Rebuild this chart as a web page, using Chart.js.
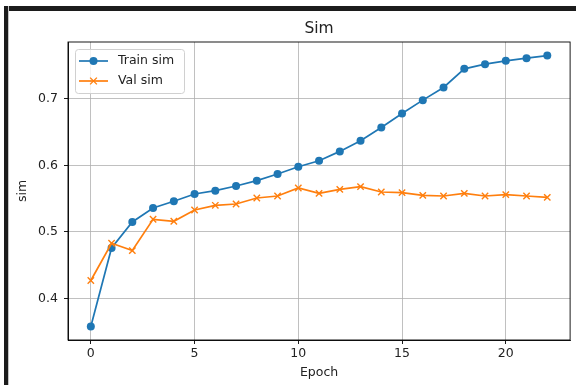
<!DOCTYPE html>
<html>
<head>
<meta charset="utf-8">
<script src="https://cdn.jsdelivr.net/npm/chart.js@4/dist/chart.umd.min.js"></script>
<style>
  body { margin: 0; background: #fff; }
  .wrap { position: relative; width: 576px; height: 385px; }
  .barTop { position: absolute; left: 4px; top: 6px; width: 572px; height: 5px; background: #1c1c1c; }
  .barLeft { position: absolute; left: 4px; top: 6px; width: 4px; height: 379px; background: #1c1c1c; border-right: 1px solid #c4c4c4; }
</style>
</head>
<body>
<div class="wrap">
  <canvas id="simChart" width="576" height="385"></canvas>
  <div class="barTop"></div>
  <div class="barLeft"></div>
</div>
<script>
// data
const epochs = [0, 1, 2, 3, 4, 5, 6, 7, 8, 9, 10, 11, 12, 13, 14, 15, 16, 17, 18, 19, 20, 21, 22];
const trainSim = [0.358, 0.476, 0.515, 0.536, 0.546, 0.557, 0.562, 0.569, 0.577, 0.587, 0.598, 0.607,
  0.621, 0.637, 0.657, 0.678, 0.698, 0.717, 0.745, 0.752, 0.757, 0.761, 0.765];
const valSim = [0.427, 0.483, 0.472, 0.519, 0.516, 0.533, 0.540, 0.542, 0.551, 0.554, 0.566, 0.558,
  0.564, 0.568, 0.560, 0.559, 0.555, 0.554, 0.558, 0.554, 0.556, 0.554, 0.552];
const xTicks = [0, 5, 10, 15, 20];
const yTicks = [0.4, 0.5, 0.6, 0.7];
const seriesLabels = ["Train sim", "Val sim"];
const seriesColors = ["#1f77b4", "#ff7f0e"];

const FONT = "'DejaVu Sans', sans-serif";
const TEXT = "#222";
const FS = 12.5; // tick / label size

// axis range with 5% margin like matplotlib
function padRange(arr) {
  const lo = Math.min(...arr), hi = Math.max(...arr);
  const pad = (hi - lo) * 0.05;
  return [lo - pad, hi + pad];
}
const [xMin, xMax] = padRange(epochs);
const [yMin, yMax] = padRange(trainSim.concat(valSim));

const toPoints = (vals) => epochs.map((e, i) => ({ x: e, y: vals[i] }));

// frame around the plot area
const framePlugin = {
  id: "frame",
  afterDatasetsDraw(chart) {
    const { ctx, chartArea: a } = chart;
    ctx.save();
    ctx.strokeStyle = "#000";
    ctx.lineWidth = 0.9;
    ctx.strokeRect(a.left, a.top, a.right - a.left, a.bottom - a.top);
    ctx.restore();
  },
};

// title centred over the axes
const titlePlugin = {
  id: "axTitle",
  afterDraw(chart) {
    const { ctx, chartArea: a } = chart;
    ctx.save();
    ctx.font = `15.5px ${FONT}`;
    ctx.fillStyle = TEXT;
    ctx.textAlign = "center";
    ctx.textBaseline = "middle";
    ctx.fillText("Sim", (a.left + a.right) / 2, 29);
    ctx.restore();
  },
};

// legend box at upper left
const legendPlugin = {
  id: "boxLegend",
  afterDraw(chart) {
    const { ctx, chartArea: a } = chart;
    const x0 = a.left + 7, y0 = a.top + 7, w = 109, h = 44;
    ctx.save();
    ctx.fillStyle = "rgba(255,255,255,0.8)";
    ctx.strokeStyle = "#d0d0d0";
    ctx.lineWidth = 1;
    ctx.beginPath();
    ctx.roundRect(x0 + 0.5, y0 + 0.5, w, h, 3);
    ctx.fill();
    ctx.stroke();

    chart.data.datasets.forEach((ds, i) => {
      const y = y0 + 12 + i * 20;
      const lx0 = x0 + 4, lx1 = x0 + 33, mx = (lx0 + lx1) / 2;
      ctx.strokeStyle = ds.borderColor;
      ctx.lineWidth = ds.borderWidth;
      ctx.beginPath();
      ctx.moveTo(lx0, y);
      ctx.lineTo(lx1, y);
      ctx.stroke();
      if (ds.pointStyle === "circle") {
        ctx.fillStyle = ds.backgroundColor;
        ctx.beginPath();
        ctx.arc(mx, y, ds.pointRadius, 0, Math.PI * 2);
        ctx.fill();
      } else {
        const r = ds.pointRadius * 0.75;
        ctx.lineWidth = ds.pointBorderWidth;
        ctx.beginPath();
        ctx.moveTo(mx - r, y - r); ctx.lineTo(mx + r, y + r);
        ctx.moveTo(mx - r, y + r); ctx.lineTo(mx + r, y - r);
        ctx.stroke();
      }
      ctx.font = `${FS}px ${FONT}`;
      ctx.fillStyle = TEXT;
      ctx.textAlign = "left";
      ctx.textBaseline = "middle";
      ctx.fillText(ds.label, x0 + 43, y);
    });
    ctx.restore();
  },
};

const gridOpts = { color: "#b0b0b0", lineWidth: 0.8, tickLength: 4, tickColor: "#000", tickWidth: 0.9 };

const config = {
  type: "line",
  data: {
    datasets: [
      {
        label: seriesLabels[0],
        data: toPoints(trainSim),
        borderColor: seriesColors[0],
        backgroundColor: seriesColors[0],
        borderWidth: 1.7,
        pointStyle: "circle",
        pointRadius: 4,
        pointBorderWidth: 0,
        tension: 0,
        order: 1,
      },
      {
        label: seriesLabels[1],
        data: toPoints(valSim),
        borderColor: seriesColors[1],
        backgroundColor: seriesColors[1],
        borderWidth: 1.7,
        pointStyle: "crossRot",
        pointRadius: 4.5,
        pointBorderWidth: 1.4,
        tension: 0,
        order: 0,
      },
    ],
  },
  options: {
    responsive: false,
    animation: false,
    events: [],
    layout: { padding: { top: 42, right: 4, left: 0, bottom: 0 } },
    plugins: {
      legend: { display: false },
      tooltip: { enabled: false },
      title: { display: false },
    },
    scales: {
      x: {
        type: "linear",
        min: xMin,
        max: xMax,
        grid: gridOpts,
        border: { display: true, color: "#000", width: 0.9 },
        afterBuildTicks: (axis) => { axis.ticks = xTicks.map((v) => ({ value: v })); },
        afterFit: (axis) => { axis.height = 45; },
        ticks: {
          padding: 2,
          color: TEXT,
          font: { family: FONT, size: FS },
          callback: (v) => String(v),
        },
        title: {
          display: true,
          text: "Epoch",
          color: TEXT,
          font: { family: FONT, size: FS },
          padding: { top: 0, bottom: 4.5 },
        },
      },
      y: {
        type: "linear",
        min: yMin,
        max: yMax,
        grid: gridOpts,
        border: { display: true, color: "#000", width: 0.9 },
        afterBuildTicks: (axis) => { axis.ticks = yTicks.map((v) => ({ value: v })); },
        afterFit: (axis) => { axis.width = 68; },
        ticks: {
          padding: 6,
          color: TEXT,
          font: { family: FONT, size: FS },
          callback: (v) => v.toFixed(1),
        },
        title: {
          display: true,
          text: "sim",
          color: TEXT,
          font: { family: FONT, size: FS },
          padding: { top: 15.5, bottom: 0 },
        },
      },
    },
  },
  plugins: [framePlugin, titlePlugin, legendPlugin],
};

new Chart(document.getElementById("simChart").getContext("2d"), config);
</script>
</body>
</html>
